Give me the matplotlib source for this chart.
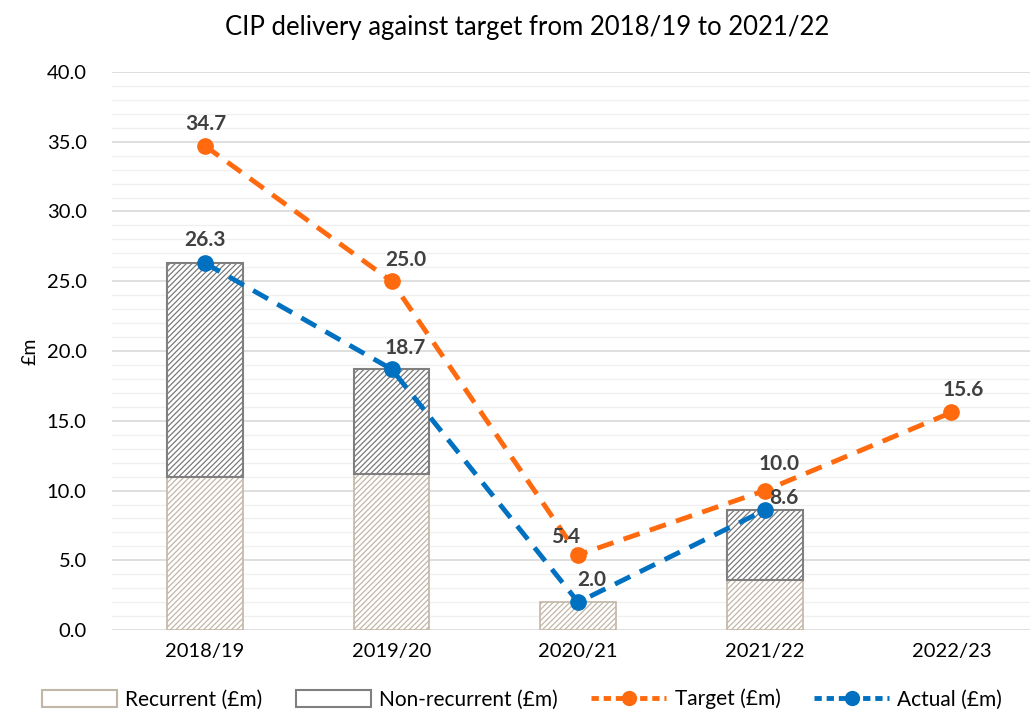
import numpy as np
import matplotlib.pyplot as plt
from matplotlib.patches import Patch
from matplotlib.lines import Line2D

plt.rcParams['font.family'] = ['Lato', 'DejaVu Sans']
plt.rcParams['hatch.linewidth'] = 0.9

years = ["2018/19", "2019/20", "2020/21", "2021/22", "2022/23"]
recurrent = [11.0, 11.2, 2.0, 3.6]
non_recurrent = [15.3, 7.5, 0.0, 5.0]
target = [34.7, 25.0, 5.4, 10.0, 15.6]
actual = [26.3, 18.7, 2.0, 8.6]

# label offsets in pixels (dx, dy)
target_off = [(1, 22), (14, 21), (-13, 18), (14, 27), (12, 22)]
actual_off = [(0, 23), (14, 21), (14, 22), (19, 12)]

orange = '#ff6a0e'
blue = '#0070c0'
tan = '#c2b6a6'
grey = '#7f7f7f'

fig = plt.figure(figsize=(10.34, 7.12), dpi=100)
ax = fig.add_axes([0.108, 0.115, 0.888, 0.784])

x = np.arange(len(years))
w = 0.405
xb = x[:len(recurrent)]
ax.bar(xb, recurrent, w, color='white', edgecolor=tan, hatch='//////', linewidth=1.2, zorder=2)
for b, r, n in zip(xb, recurrent, non_recurrent):
    if n > 0:
        ax.bar(b, n, w, bottom=r, color='white', edgecolor='#7a7a7a', hatch='//////',
               linewidth=0, zorder=2)
        ax.bar(b, n, w, bottom=r, color='none', edgecolor=grey, linewidth=1.5, zorder=2)

ax.plot(x, target, color=orange, ls=(0, (3.5, 2.2)), lw=3.5, marker='o', ms=11, zorder=3)
ax.plot(x[:len(actual)], actual, color=blue, ls=(0, (3.5, 2.2)), lw=3.5, marker='o', ms=11, zorder=4)

for i, v in enumerate(target):
    ax.annotate(f"{v:.1f}", (x[i], v), xytext=target_off[i], textcoords='offset pixels',
                ha='center', va='center', fontsize=15, fontweight='bold', color='#404040', zorder=5)
for i, v in enumerate(actual):
    ax.annotate(f"{v:.1f}", (x[i], v), xytext=actual_off[i], textcoords='offset pixels',
                ha='center', va='center', fontsize=15, fontweight='bold', color='#404040', zorder=5)

ax.set_xlim(-0.5, 4.42)
ax.set_ylim(0, 40)
ax.set_yticks(np.arange(0, 40.1, 5))
ax.set_yticklabels([f"{v:.1f}" for v in np.arange(0, 40.1, 5)])
ax.set_yticks(np.arange(0, 40.1, 1), minor=True)
ax.grid(axis='y', which='major', color='#d9d9d9', lw=1.2, zorder=0)
ax.grid(axis='y', which='minor', color='#f0f0f0', lw=1.0, zorder=0)
ax.set_axisbelow(True)
ax.set_xticks(x)
ax.set_xticklabels(years)
ax.tick_params(axis='both', which='both', length=0, labelsize=14.5, colors='black')
ax.tick_params(axis='x', pad=9)
ax.tick_params(axis='y', pad=18)
for s in ax.spines.values():
    s.set_visible(False)

ax.set_ylabel("£m", fontsize=14, labelpad=6)
fig.text(0.51, 0.962, "CIP delivery against target from 2018/19 to 2021/22",
         ha='center', va='center', fontsize=18.5)

handles = [
    Patch(facecolor='white', edgecolor=tan, linewidth=1.5, label='Recurrent (£m)'),
    Patch(facecolor='white', edgecolor=grey, linewidth=1.5, label='Non-recurrent (£m)'),
    Line2D([], [], color=orange, ls=(0, (1.5, 1)), lw=3.5, marker='o', ms=10, label='Target (£m)'),
    Line2D([], [], color=blue, ls=(0, (1.5, 1)), lw=3.5, marker='o', ms=10, label='Actual (£m)'),
]
fig.legend(handles=handles, loc='center', bbox_to_anchor=(0.505, 0.018), ncol=4,
           frameon=False, fontsize=15, handlelength=3.6, handleheight=0.9,
           columnspacing=1.6, handletextpad=0.4)

fig.savefig("out.png", dpi=100)
